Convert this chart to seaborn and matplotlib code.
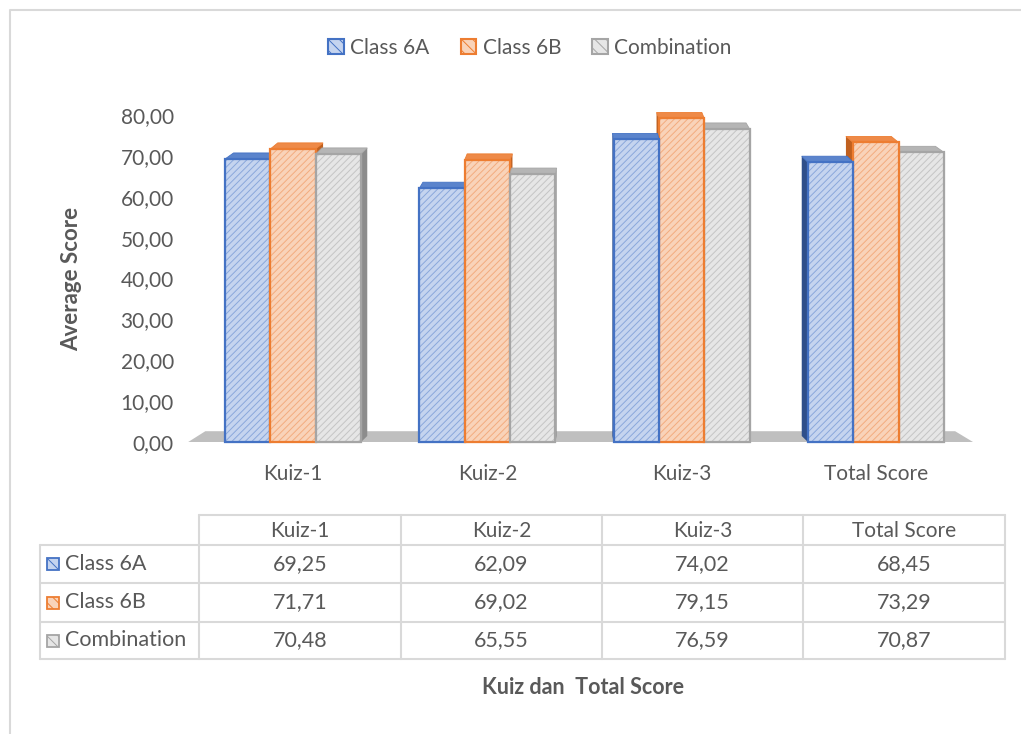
import matplotlib
matplotlib.use("Agg")
import numpy as np
import pandas as pd
import matplotlib.pyplot as plt
import seaborn as sns
from matplotlib.patches import Polygon, Rectangle, Patch

# ---------------- data ----------------
categories = ["Kuiz-1", "Kuiz-2", "Kuiz-3", "Total Score"]
series_names = ["Class 6A", "Class 6B", "Combination"]
class_6a = [69.25, 62.09, 74.02, 68.45]
class_6b = [71.71, 69.02, 79.15, 73.29]
combination = [70.48, 65.55, 76.59, 70.87]
y_ticks = [0, 10, 20, 30, 40, 50, 60, 70, 80]
y_tick_labels = ["0,00", "10,00", "20,00", "30,00", "40,00", "50,00", "60,00", "70,00", "80,00"]
y_label = "Average Score"
x_title = "Kuiz dan  Total Score"

# ---------------- styles ----------------
fill_colors = {"Class 6A": "#C5D4EF", "Class 6B": "#F9D3B9", "Combination": "#E6E6E6"}
hatch_colors = {"Class 6A": "#8AA7DB", "Class 6B": "#F3AB7E", "Combination": "#C4C4C4"}
line_colors = {"Class 6A": "#4472C4", "Class 6B": "#ED7D31", "Combination": "#A5A5A5"}
side_colors = {"Class 6A": "#2F4F8A", "Class 6B": "#C0601F", "Combination": "#8C8C8C"}
top_colors = {"Class 6A": "#5B84CC", "Class 6B": "#EE8A48", "Combination": "#B5B5B5"}
text_color = "#595959"

sns.set_theme(style="white")
plt.rcParams['font.family'] = ['Lato', 'DejaVu Sans']
plt.rcParams['hatch.linewidth'] = 0.7

W, H = 1021, 734
fig = plt.figure(figsize=(W / 100, H / 100), dpi=100)
fig.patch.set_facecolor("white")


def px(l, t, r, b):
    return [l / W, 1 - b / H, (r - l) / W, (b - t) / H]


# background overlay axes in pixel coordinates (frame, table)
bg = fig.add_axes([0, 0, 1, 1], zorder=-5)
bg.set_xlim(0, W)
bg.set_ylim(H, 0)
bg.axis("off")

# ---------------- chart ----------------
ax = fig.add_axes(px(196, 115, 973, 442))
df = pd.DataFrame({
    "category": categories * 3,
    "series": sum([[s] * len(categories) for s in series_names], []),
    "score": class_6a + class_6b + combination,
})
sns.barplot(data=df, x="category", y="score", hue="series", order=categories,
            hue_order=series_names, palette=fill_colors, saturation=1,
            width=0.70, gap=0, ax=ax, legend=False, linewidth=0.8)
ax.set_xlim(-0.5, len(categories) - 0.5)
ax.set_ylim(0, 80)
for sp in ax.spines.values():
    sp.set_visible(False)
ax.set_yticks(y_ticks)
ax.set_yticklabels(y_tick_labels, fontsize=15, color=text_color)
ax.tick_params(axis="y", length=0, pad=16)
ax.tick_params(axis="x", length=0, pad=16, labelsize=15, labelcolor=text_color)
ax.set_xlabel("")
ax.set_ylabel(y_label, fontsize=16, fontweight="bold", color=text_color, labelpad=28)
ax.patch.set_alpha(0)

# floor
floor = Polygon([(-0.01, 0.0), (1.0, 0.0), (0.977, 0.033), (0.012, 0.033)],
                closed=True, transform=ax.transAxes, facecolor="#BFBFBF",
                edgecolor="none", zorder=0.5, clip_on=False)
ax.add_patch(floor)

# style bars and add 3D faces
fig.canvas.draw()
inv = ax.transData.inverted()
center_px = ax.transAxes.transform((0.5, 0))[0]
bars = []
for cont, name in zip(ax.containers, series_names):
    for p in cont.patches:
        p.set_facecolor(fill_colors[name])
        p.set_edgecolor(hatch_colors[name])
        p.set_hatch("/////")
        bars.append((p, name))

bars.sort(key=lambda t: -abs(ax.transData.transform((t[0].get_x() + t[0].get_width() / 2, 0))[0] - center_px))
for i, (p, name) in enumerate(bars):
    z = 2 + i * 0.1
    x0, y0 = p.get_x(), p.get_y()
    x1, y1 = x0 + p.get_width(), y0 + p.get_height()
    (X0, Y0), (X1, Y1) = ax.transData.transform([(x0, y0), (x1, y1)])
    xc = (X0 + X1) / 2
    dx = (center_px - xc) * 0.025
    dy = 6.0

    def d(X, Y):
        return inv.transform((X, Y))
    top = [d(X0, Y1), d(X1, Y1), d(X1 + dx, Y1 + dy), d(X0 + dx, Y1 + dy)]
    if dx >= 0:
        side = [d(X1, Y0), d(X1 + dx, Y0 + dy), d(X1 + dx, Y1 + dy), d(X1, Y1)]
    else:
        side = [d(X0, Y0), d(X0 + dx, Y0 + dy), d(X0 + dx, Y1 + dy), d(X0, Y1)]
    ax.add_patch(Polygon(side, closed=True, facecolor=side_colors[name],
                         edgecolor="none", zorder=z, clip_on=False))
    ax.add_patch(Polygon(top, closed=True, facecolor=top_colors[name],
                         edgecolor=line_colors[name], linewidth=0.6, zorder=z, clip_on=False))
    p.set_zorder(z + 0.02)
    p.set_clip_on(False)
    ax.add_patch(Rectangle((x0, y0), x1 - x0, y1 - y0, fill=False,
                           edgecolor=line_colors[name], linewidth=1.6,
                           zorder=z + 0.04, clip_on=False))

# legend
handles = [Patch(facecolor=fill_colors[n], edgecolor=line_colors[n], hatch="\\\\\\",
                 linewidth=1.5, label=n) for n in series_names]
leg = fig.legend(handles=handles, loc="center", bbox_to_anchor=(530 / W, 1 - 48 / H),
                 ncol=3, frameon=False, fontsize=15, handlelength=0.75, handleheight=0.75,
                 handletextpad=0.3, columnspacing=1.5)
for t in leg.get_texts():
    t.set_color(text_color)

# ---------------- frame ----------------
bg.plot([10, 10, W + 5], [H + 5, 10, 10], color="#D9D9D9", linewidth=1.5)

# ---------------- data table ----------------
col_edges = [40, 199, 401, 602, 803, 1005]
row_edges = [515, 545, 583, 622, 659]
grid_c = "#D9D9D9"
lw = 1.5
bg.plot([col_edges[1], col_edges[-1]], [row_edges[0]] * 2, color=grid_c, lw=lw)
for yv in row_edges[1:]:
    bg.plot([col_edges[0], col_edges[-1]], [yv, yv], color=grid_c, lw=lw)
bg.plot([col_edges[0]] * 2, [row_edges[1], row_edges[-1]], color=grid_c, lw=lw)
for xv in col_edges[1:]:
    bg.plot([xv, xv], [row_edges[0], row_edges[-1]], color=grid_c, lw=lw)

for j, cat in enumerate(categories):
    xc = (col_edges[j + 1] + col_edges[j + 2]) / 2
    bg.text(xc, (row_edges[0] + row_edges[1]) / 2 + 1, cat, ha="center", va="center",
            fontsize=15, color=text_color)

series_values = [class_6a, class_6b, combination]
for i, (name, vals) in enumerate(zip(series_names, series_values)):
    yc = (row_edges[i + 1] + row_edges[i + 2]) / 2
    bg.add_patch(Rectangle((47, yc - 6), 12, 12, facecolor=fill_colors[name],
                           edgecolor=line_colors[name], hatch="\\\\\\", linewidth=1.3))
    bg.text(65, yc, name, ha="left", va="center", fontsize=15.5, color=text_color)
    for j, v in enumerate(vals):
        xc = (col_edges[j + 1] + col_edges[j + 2]) / 2
        bg.text(xc, yc, f"{v:.2f}".replace(".", ","), ha="center", va="center",
                fontsize=15.5, color=text_color)

bg.text(583, 687, x_title, ha="center", va="center", fontsize=15.5,
        fontweight="bold", color=text_color)

fig.savefig("out.png", dpi=100, facecolor="white")
